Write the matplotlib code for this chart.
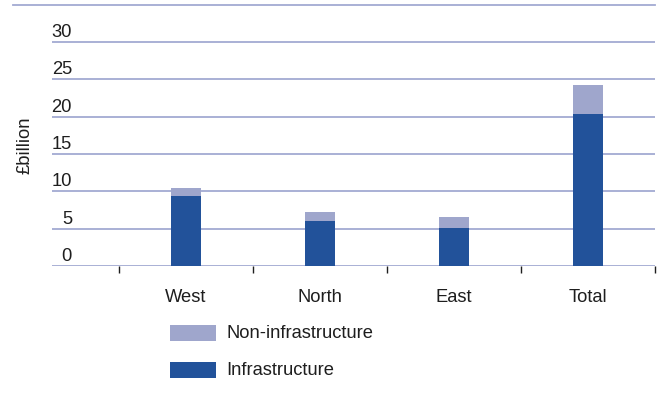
import matplotlib
matplotlib.use("Agg")
import matplotlib.pyplot as plt
from matplotlib.patches import Rectangle
from matplotlib.lines import Line2D
import matplotlib.transforms as mtransforms

categories = ["West", "North", "East", "Total"]
infrastructure = [9.4, 6.0, 5.1, 20.3]
non_infrastructure = [1.1, 1.2, 1.5, 3.9]
y_ticks = [0, 5, 10, 15, 20, 25, 30]
y_label = "£billion"
legend_labels = ["Non-infrastructure", "Infrastructure"]

dark = "#22529A"
light = "#9FA6CC"
grid = "#A3AAD2"
txt = "#1e1e1e"
FS = 13.2

plt.rcParams['font.family'] = ['Liberation Sans', 'DejaVu Sans']

W, H = 663, 414
fig = plt.figure(figsize=(W / 100, H / 100), dpi=100)
ax = fig.add_axes([52 / W, 1 - 267 / H, (655 - 52) / W, (267 - 5.7) / H])
ax.set_xlim(-1, 3.5)
ax.set_ylim(0, 35)
for s in ax.spines.values():
    s.set_visible(False)

x = list(range(len(categories)))
ax.bar(x, infrastructure, width=0.23, color=dark, zorder=3)
ax.bar(x, non_infrastructure, width=0.23, bottom=infrastructure, color=light, zorder=3)

off = mtransforms.offset_copy(ax.get_yaxis_transform(), fig=fig, x=20, y=2, units='dots')
for v in y_ticks:
    ax.axhline(v, color=grid, lw=1.3, zorder=1)
    ax.text(0, v, str(v), transform=off, ha='right', va='bottom', fontsize=FS, color=txt)

# top line spanning wider
fig.add_artist(Line2D([13 / W, 655 / W], [1 - 5.7 / H, 1 - 5.7 / H], color=grid, lw=1.3))

ax.set_yticks([])
ax.set_xticks(x)
ax.set_xticklabels(categories, fontsize=FS, color=txt)
ax.tick_params(axis='x', which='major', length=0, pad=16)
ax.set_xticks([-0.5, 0.5, 1.5, 2.5, 3.5], minor=True)
ax.tick_params(axis='x', which='minor', length=5, width=1, color=txt)

fig.text(25 / W, 1 - 145 / H, y_label, rotation=90, ha='center', va='center',
         fontsize=FS, color=txt)

# legend
for i, (lab, col) in enumerate(zip(legend_labels, [light, dark])):
    y0 = [326, 363][i]
    fig.add_artist(Rectangle((170 / W, 1 - (y0 + 16) / H), 46 / W, 16 / H,
                             transform=fig.transFigure, color=col, lw=0))
    fig.text(226 / W, 1 - (y0 + 8) / H, lab, ha='left', va='center',
             fontsize=FS, color=txt)

fig.savefig("out.png", dpi=100)
